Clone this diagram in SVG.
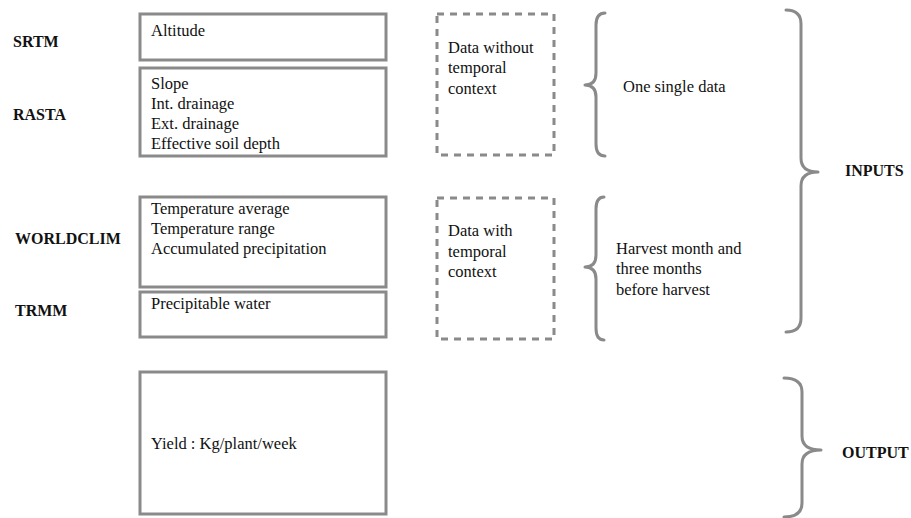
<svg xmlns="http://www.w3.org/2000/svg" width="911" height="518" viewBox="0 0 911 518">
  <style>
    .box { fill: #ffffff; stroke: #8a8a8a; stroke-width: 3; }
    .dash { fill: none; stroke: #8a8a8a; stroke-width: 3; stroke-dasharray: 7 6; }
    .brace { fill: none; stroke: #8a8a8a; stroke-width: 3; stroke-linecap: round; stroke-linejoin: round; }
    .t { font-family: "Liberation Serif", "Times New Roman", serif; font-size: 16.5px; fill: #111111; }
    .lbl { font-family: "Liberation Serif", "Times New Roman", serif; font-size: 16px; font-weight: bold; fill: #111111; }
  </style>
  <rect width="911" height="518" fill="#ffffff"/>

  <!-- source labels -->
  <g id="sources">
    <text class="lbl" x="13" y="47">SRTM</text>
    <text class="lbl" x="13" y="120">RASTA</text>
    <text class="lbl" x="15" y="244">WORLDCLIM</text>
    <text class="lbl" x="15" y="316">TRMM</text>
  </g>

  <g id="node-altitude">
    <rect class="box" x="140" y="14" width="246" height="46"/>
    <text class="t" x="151" y="36">Altitude</text>
  </g>

  <g id="node-rasta">
    <rect class="box" x="140" y="68" width="246" height="88"/>
    <text class="t" x="151" y="89">Slope</text>
    <text class="t" x="151" y="109">Int. drainage</text>
    <text class="t" x="151" y="129">Ext. drainage</text>
    <text class="t" x="151" y="149">Effective soil depth</text>
  </g>

  <g id="node-worldclim">
    <rect class="box" x="140" y="197" width="246" height="90"/>
    <text class="t" x="151" y="214">Temperature average</text>
    <text class="t" x="151" y="234">Temperature range</text>
    <text class="t" x="151" y="254">Accumulated precipitation</text>
  </g>

  <g id="node-trmm">
    <rect class="box" x="140" y="292" width="246" height="45"/>
    <text class="t" x="151" y="309">Precipitable water</text>
  </g>

  <g id="node-yield">
    <rect class="box" x="140" y="372" width="246" height="142"/>
    <text class="t" x="151" y="449">Yield : Kg/plant/week</text>
  </g>

  <g id="node-static">
    <rect class="dash" x="437" y="14" width="117" height="141"/>
    <text class="t" x="448" y="53">Data without</text>
    <text class="t" x="448" y="73">temporal</text>
    <text class="t" x="448" y="94">context</text>
  </g>

  <g id="node-temporal">
    <rect class="dash" x="437" y="198" width="117" height="141"/>
    <text class="t" x="448" y="236">Data with</text>
    <text class="t" x="448" y="257">temporal</text>
    <text class="t" x="448" y="277">context</text>
  </g>

  <g id="node-single">
    <text class="t" x="623" y="92">One single data</text>
  </g>

  <g id="node-months">
    <text class="t" x="616" y="254">Harvest month and</text>
    <text class="t" x="616" y="274">three months</text>
    <text class="t" x="616" y="295">before harvest</text>
  </g>

  <g id="node-inputs">
    <text class="lbl" x="845" y="176">INPUTS</text>
  </g>

  <g id="node-output">
    <text class="lbl" x="842" y="458">OUTPUT</text>
  </g>

  <!-- grouping braces -->
  <g id="connectors">
    <path class="brace" d="M605,13 Q596,13 596,25 L596,73 Q596,85 585,85 Q596,85 596,97 L596,144 Q596,156 605,156"/>
    <path class="brace" d="M604,197 Q596,197 596,209 L596,255 Q596,267 585,267 Q596,267 596,279 L596,328 Q596,340 604,340"/>
    <path class="brace" d="M786,10 Q801,10 801,24 L801,158 Q801,172 818,172 Q801,172 801,186 L801,318 Q801,332 786,332"/>
    <path class="brace" d="M784,378 Q802,378 802,392 L802,436 Q802,450 821,450 Q802,450 802,464 L802,503 Q802,517 784,517"/>
  </g>
</svg>
